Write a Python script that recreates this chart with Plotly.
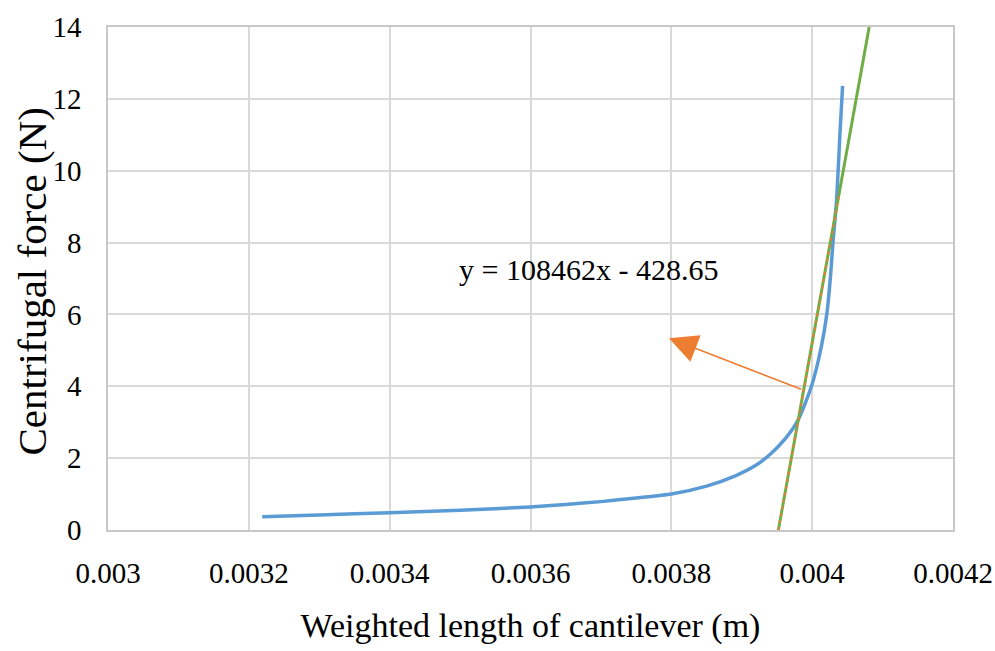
import plotly.graph_objects as go

# Blue curve: centrifugal force vs weighted cantilever length
length_m = [0.003219, 0.00330, 0.00340, 0.00350, 0.00360, 0.00365, 0.00370, 0.00375,
            0.00380, 0.00385, 0.00389, 0.00392, 0.00394, 0.00396, 0.00398, 0.003999,
            0.004013, 0.004021, 0.004026, 0.0040295, 0.0040347, 0.0040395, 0.0040432]
force_n = [0.37, 0.42, 0.48, 0.55, 0.64, 0.71, 0.79, 0.89,
           1.00, 1.22, 1.50, 1.80, 2.10, 2.50, 3.06, 4.00,
           5.10, 6.04, 7.05, 8.00, 9.18, 11.05, 12.36]

# Green linear fit line (y = 108462x - 428.65), endpoints
fit_x = [0.003952, 0.004081]
fit_y = [0.0, 14.0]

# Orange dotted segment along the fit
seg_x = [0.003952, 0.004039]
seg_y = [0.0, 9.4]

# Arrow (tail on fit line -> head near equation)
arrow_tail = (0.0039865, 3.90)
arrow_head = (0.0037966, 5.34)

equation_text = "y = 108462x - 428.65"
equation_pos = (0.003683, 7.24)

x_tickvals = [0.003, 0.0032, 0.0034, 0.0036, 0.0038, 0.004, 0.0042]
x_ticktext = ["0.003", "0.0032", "0.0034", "0.0036", "0.0038", "0.004", "0.0042"]
y_tickvals = [0, 2, 4, 6, 8, 10, 12, 14]

FONT = "Liberation Serif"
GRID = "#D9D9D9"

fig = go.Figure()
fig.add_trace(go.Scatter(x=length_m, y=force_n, mode="lines",
                         line=dict(color="#5B9BD5", width=3.5, shape="spline", smoothing=0.6),
                         showlegend=False, hoverinfo="skip"))
fig.add_trace(go.Scatter(x=fit_x, y=fit_y, mode="lines",
                         line=dict(color="#70AD47", width=3),
                         showlegend=False, hoverinfo="skip"))
fig.add_trace(go.Scatter(x=seg_x, y=seg_y, mode="lines",
                         line=dict(color="#ED7D31", width=1.8, dash="3px,4px"),
                         showlegend=False, hoverinfo="skip"))

fig.add_annotation(x=equation_pos[0], y=equation_pos[1], xref="x", yref="y",
                   text=equation_text, showarrow=False,
                   font=dict(family=FONT, size=30, color="#000000"))
fig.add_annotation(x=arrow_head[0], y=arrow_head[1], ax=arrow_tail[0], ay=arrow_tail[1],
                   xref="x", yref="y", axref="x", ayref="y", text="",
                   showarrow=True, arrowhead=2, arrowsize=3.8, arrowwidth=1.5,
                   arrowcolor="#ED7D31", standoff=0, startstandoff=0)

# y-axis title placed as a rotated annotation for exact positioning
fig.add_annotation(x=0, y=0.5, xref="paper", yref="paper", xanchor="center", yanchor="middle",
                   xshift=-77, yshift=-3, textangle=-90, showarrow=False,
                   text="Centrifugal force (N)",
                   font=dict(family=FONT, size=41, color="#000000"))

fig.update_xaxes(range=[0.003, 0.0042], tickvals=x_tickvals, ticktext=x_ticktext,
                 showgrid=True, gridcolor=GRID, gridwidth=1.5,
                 showline=True, linecolor="#C8C8C8", linewidth=1.5, mirror=True,
                 zeroline=False, ticks="", ticklabelstandoff=16,
                 tickfont=dict(family=FONT, size=29, color="#000000"),
                 title=dict(text="Weighted length of cantilever (m)", standoff=26,
                            font=dict(family=FONT, size=34, color="#000000")))
fig.update_yaxes(range=[0, 14], tickvals=y_tickvals,
                 showgrid=True, gridcolor=GRID, gridwidth=1.5,
                 showline=True, linecolor="#C8C8C8", linewidth=1.5, mirror=True,
                 zeroline=False, ticks="", ticklabelstandoff=19,
                 tickfont=dict(family=FONT, size=29, color="#000000"))

fig.update_layout(width=995, height=651,
                  margin=dict(l=108, r=42, t=27, b=121, autoexpand=False),
                  plot_bgcolor="white", paper_bgcolor="white")

# remove the default page margin and scrollbars so the figure fills the window exactly
page_css = ("document.documentElement.style.overflow='hidden';"
            "document.body.style.margin='0';"
            "document.body.style.overflow='hidden';")

fig.write_html("out.html", post_script=page_css, config={"displayModeBar": False})
